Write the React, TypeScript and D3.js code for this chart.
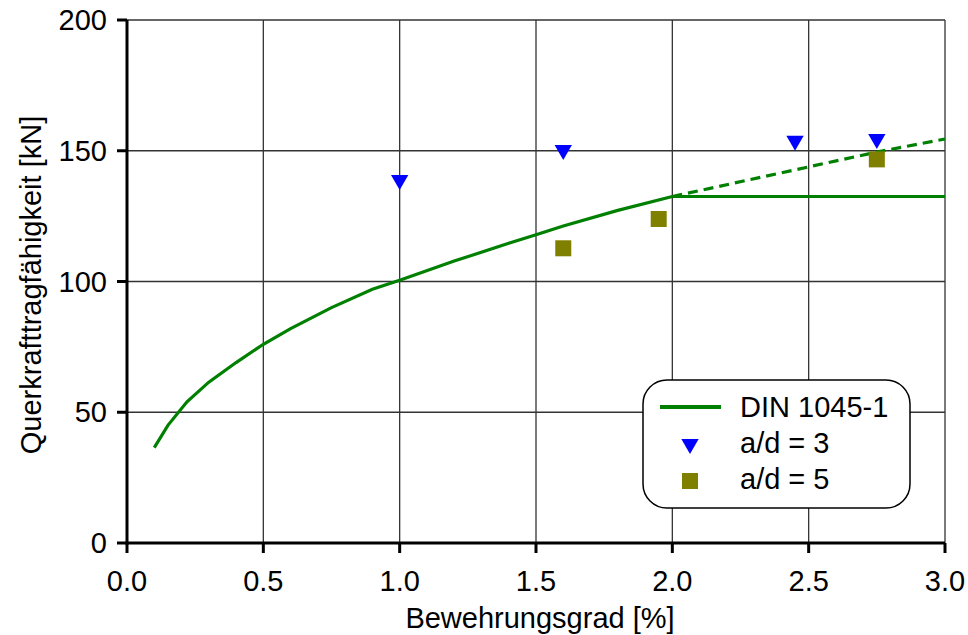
import React from "react";
import * as d3 from "d3";

const dinX = [0.1, 0.15, 0.22, 0.3, 0.4, 0.5, 0.6, 0.75, 0.9, 1.0, 1.2, 1.4, 1.5, 1.6, 1.8, 2.0];
const dinY = [36.5, 45, 54, 61.5, 69, 76, 82, 90, 97, 100.5, 107.8, 114.6, 117.9, 121.2, 127.2, 132.5];
const capX = [2.0, 3.0];
const capY = [132.5, 132.5];
const dashX = [2.0, 2.75, 3.0];
const dashY = [132.5, 149.5, 154.5];
const ad3X = [1.0, 1.6, 2.45, 2.75];
const ad3Y = [138.8, 150.3, 153.8, 154.5];
const ad5X = [1.6, 1.95, 2.75];
const ad5Y = [112.7, 123.9, 146.7];
const xTicks = [0, 0.5, 1.0, 1.5, 2.0, 2.5, 3.0];
const yTicks = [0, 50, 100, 150, 200];
const legendLabels = ["DIN 1045-1", "a/d = 3", "a/d = 5"];

const GREEN = "#008000";
const BLUE = "#0000ff";
const OLIVE = "#808000";
const FONT = "'Liberation Sans', Arial, sans-serif";
const FS = 29;

export default function App() {
  const W = 968, H = 635;
  const x = d3.scaleLinear().domain([0, 3]).range([127, 945]);
  const y = d3.scaleLinear().domain([0, 200]).range([543, 20]);
  const line = d3.line<[number, number]>().x(d => x(d[0])).y(d => y(d[1]));
  const zip = (a: number[], b: number[]) => a.map((v, i) => [v, b[i]] as [number, number]);
  const tri = d3.symbol().type(d3.symbolTriangle).size(130);

  return (
    <svg width={W} height={H} style={{ position: "absolute", left: 0, top: 0 }} fontFamily={FONT}>
      <rect width={W} height={H} fill="#fff" />
      {/* grid */}
      {xTicks.slice(1).map(t => (
        <line key={"gx" + t} x1={x(t)} x2={x(t)} y1={y(0)} y2={y(200)} stroke="#333" strokeWidth={1.3} />
      ))}
      {yTicks.slice(1).map(t => (
        <line key={"gy" + t} x1={x(0)} x2={x(3)} y1={y(t)} y2={y(t)} stroke="#333" strokeWidth={1.3} />
      ))}
      {/* curves */}
      <path d={line(zip(dinX, dinY)) || ""} fill="none" stroke={GREEN} strokeWidth={3.2} />
      <path d={line(zip(capX, capY)) || ""} fill="none" stroke={GREEN} strokeWidth={3.2} />
      <path d={line(zip(dashX, dashY)) || ""} fill="none" stroke={GREEN} strokeWidth={3.2} strokeDasharray="10,6" />
      {/* markers */}
      {ad5X.map((v, i) => (
        <rect key={"s" + i} x={x(v) - 8} y={y(ad5Y[i]) - 8} width={16} height={16} fill={OLIVE} />
      ))}
      {ad3X.map((v, i) => (
        <path key={"t" + i} d={tri() || ""} transform={`translate(${x(v)},${y(ad3Y[i])}) rotate(180)`} fill={BLUE} />
      ))}
      {/* axes */}
      <line x1={x(0)} x2={x(0)} y1={y(0) + 1.5} y2={y(200)} stroke="#000" strokeWidth={3} />
      <line x1={x(0) - 1.5} x2={x(3)} y1={y(0)} y2={y(0)} stroke="#000" strokeWidth={3} />
      {xTicks.map(t => (
        <g key={"xt" + t}>
          <line x1={x(t)} x2={x(t)} y1={y(0)} y2={y(0) + 10} stroke="#000" strokeWidth={3} />
          <text x={x(t)} y={591} textAnchor="middle" fontSize={FS}>{t.toFixed(1)}</text>
        </g>
      ))}
      {yTicks.map(t => (
        <g key={"yt" + t}>
          <line x1={x(0) - 10} x2={x(0)} y1={y(t)} y2={y(t)} stroke="#000" strokeWidth={3} />
          <text x={107} y={y(t) + 10} textAnchor="end" fontSize={FS}>{t}</text>
        </g>
      ))}
      <text x={540} y={628} textAnchor="middle" fontSize={FS}>Bewehrungsgrad [%]</text>
      <text transform={`translate(41,285) rotate(-90)`} textAnchor="middle" fontSize={FS}>Querkrafttragfähigkeit [kN]</text>
      {/* legend */}
      <rect x={643} y={380} width={267} height={128} rx={24} ry={24} fill="#fff" stroke="#000" strokeWidth={1.5} />
      <line x1={660} x2={721} y1={407} y2={407} stroke={GREEN} strokeWidth={4} />
      <path d={tri() || ""} transform={`translate(690,444) rotate(180)`} fill={BLUE} />
      <rect x={682} y={473} width={16} height={16} fill={OLIVE} />
      <text x={740} y={417} fontSize={FS}>{legendLabels[0]}</text>
      <text x={740} y={453} fontSize={FS}>{legendLabels[1]}</text>
      <text x={740} y={489} fontSize={FS}>{legendLabels[2]}</text>
    </svg>
  );
}
